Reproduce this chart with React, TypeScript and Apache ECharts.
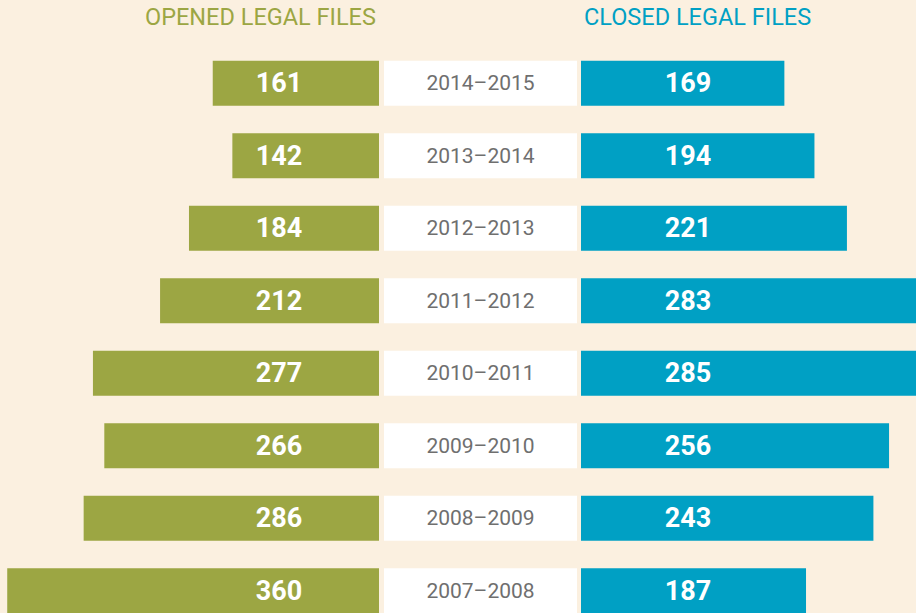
import React, { useEffect, useRef } from "react";
import * as echarts from "echarts";

const years = ["2014–2015", "2013–2014", "2012–2013", "2011–2012", "2010–2011", "2009–2010", "2008–2009", "2007–2008"];
const opened = [161, 142, 184, 212, 277, 266, 286, 360];
const closed = [169, 194, 221, 283, 285, 256, 243, 187];
const yearBoxes = years.map(() => 1);

const GREEN = "#9CA643";
const BLUE = "#00A0C4";
const BG = "#FBF0E0";
const FONT = "Roboto, 'Open Sans', sans-serif";

export default function App() {
  const ref = useRef<HTMLDivElement>(null);
  useEffect(() => {
    if (!ref.current) return;
    const chart = echarts.init(ref.current, null, { renderer: "svg" });
    const top = 47;
    const height = 580;
    const numLabel = {
      inside: true,
      interval: 0,
      align: "center",
      verticalAlign: "middle",
      color: "#ffffff",
      fontWeight: "bold",
      fontSize: 27,
      fontFamily: FONT,
    };
    chart.setOption({
      animation: false,
      backgroundColor: BG,
      grid: [
        { left: 0, width: 379, top, height, outerBoundsMode: "none" },
        { left: 384, width: 193, top, height, outerBoundsMode: "none" },
        { left: 581, width: 361, top, height, outerBoundsMode: "none" },
      ],
      xAxis: [
        { gridIndex: 0, type: "value", inverse: true, min: 0, max: 367, show: false },
        { gridIndex: 1, type: "value", min: 0, max: 1, show: false },
        { gridIndex: 2, type: "value", min: 0, max: 300, show: false },
      ],
      yAxis: [
        {
          gridIndex: 0,
          type: "category",
          data: years,
          inverse: true,
          position: "right",
          z: 10,
          axisLine: { show: false },
          axisTick: { show: false },
          splitLine: { show: false },
          axisLabel: { ...numLabel, margin: 100, formatter: (_v: string, i: number) => String(opened[i]) },
        },
        {
          gridIndex: 1,
          type: "category",
          data: years,
          inverse: true,
          show: false,
        },
        {
          gridIndex: 2,
          type: "category",
          data: years,
          inverse: true,
          position: "left",
          z: 10,
          axisLine: { show: false },
          axisTick: { show: false },
          splitLine: { show: false },
          axisLabel: { ...numLabel, margin: 107, formatter: (_v: string, i: number) => String(closed[i]) },
        },
      ],
      graphic: [
        {
          type: "text",
          left: 145,
          top: 5,
          style: { text: "OPENED LEGAL FILES", fill: GREEN, fontSize: 23.5, fontFamily: FONT },
        },
        {
          type: "text",
          left: 584,
          top: 5,
          style: { text: "CLOSED LEGAL FILES", fill: BLUE, fontSize: 23.5, fontFamily: FONT },
        },
      ],
      series: [
        {
          type: "bar",
          name: "Opened",
          xAxisIndex: 0,
          yAxisIndex: 0,
          data: opened,
          barWidth: 45,
          itemStyle: { color: GREEN },
        },
        {
          type: "bar",
          name: "Years",
          xAxisIndex: 1,
          yAxisIndex: 1,
          data: yearBoxes,
          barWidth: 45,
          itemStyle: { color: "#ffffff" },
          label: {
            show: true,
            position: "inside",
            formatter: "{b}",
            color: "#6f6f6f",
            fontSize: 21,
            fontFamily: FONT,
          },
        },
        {
          type: "bar",
          name: "Closed",
          xAxisIndex: 2,
          yAxisIndex: 2,
          data: closed,
          barWidth: 45,
          itemStyle: { color: BLUE },
        },
      ],
    });
    return () => chart.dispose();
  }, []);
  return (
    <div style={{ position: "absolute", left: 0, top: 0, width: 916, height: 613, overflow: "hidden", background: BG }}>
      <div ref={ref} style={{ width: 960, height: 640 }} />
    </div>
  );
}
